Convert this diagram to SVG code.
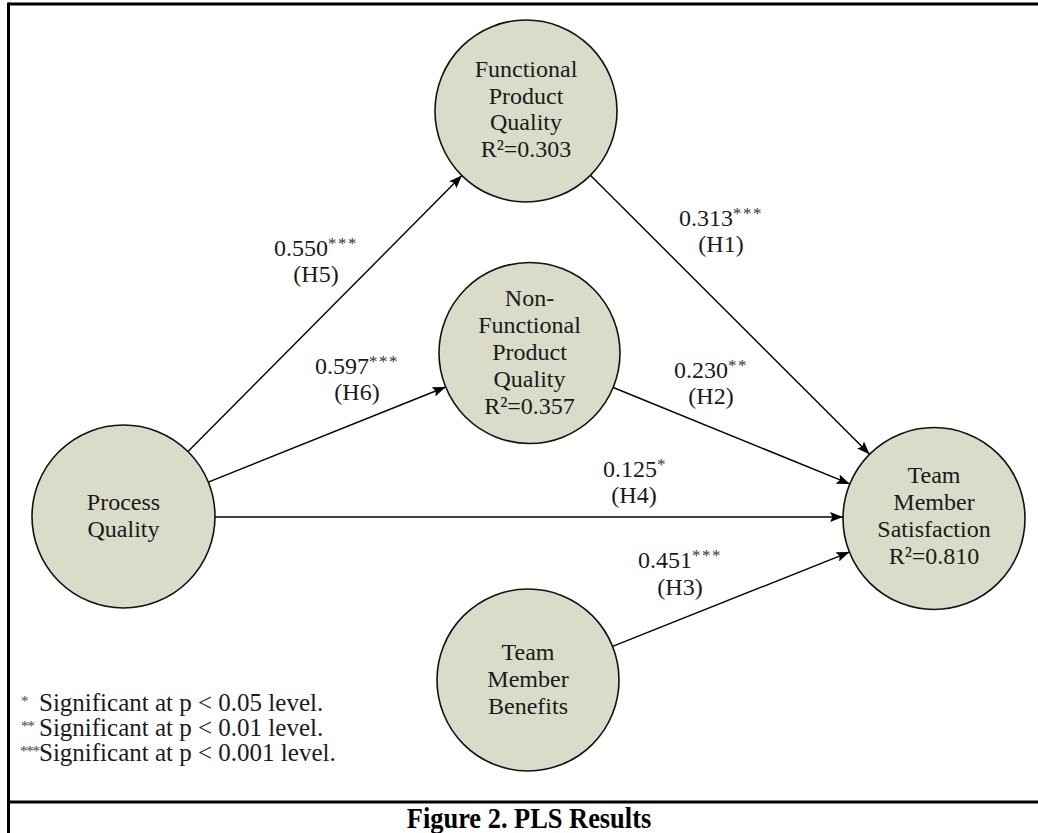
<svg xmlns="http://www.w3.org/2000/svg" width="1038" height="833" viewBox="0 0 1038 833">
<defs>
<style>
.frame{stroke:#000;stroke-width:3;fill:none}
.node circle{fill:#d9dcc8;stroke:#111;stroke-width:1.6}
.node text{font-family:"Liberation Serif","Times New Roman",serif;font-size:24px;fill:#1a1a1a;text-anchor:middle}
.edge{stroke:#000;stroke-width:1.4;fill:none;marker-end:url(#ah)}
.lbl{font-family:"Liberation Serif","Times New Roman",serif;font-size:24px;fill:#1a1a1a;text-anchor:middle}
.sup{font-size:17px;letter-spacing:1.5px;fill:#333}
.leg{font-family:"Liberation Serif","Times New Roman",serif;font-size:25px;fill:#1a1a1a}
.legs{font-family:"Liberation Serif","Times New Roman",serif;font-size:15px;fill:#444;letter-spacing:-1.2px}
.cap{font-family:"Liberation Serif","Times New Roman",serif;font-size:30px;font-weight:bold;fill:#000;text-anchor:middle}
</style>
<marker id="ah" markerWidth="14" markerHeight="10" refX="13" refY="5" orient="auto" markerUnits="userSpaceOnUse">
<path d="M0,0 L13,5 L0,10 L2.5,5 Z" fill="#000"/>
</marker>
</defs>
<rect width="1038" height="833" fill="#fff"/>
<g id="frame">
<line class="frame" x1="8.5" y1="4" x2="1038" y2="4"/>
<line class="frame" x1="8.5" y1="2.5" x2="8.5" y2="833"/>
<line class="frame" x1="8.5" y1="802" x2="1038" y2="802"/>
</g>
<g id="connectors">
<line class="edge" x1="188" y1="451.6" x2="461.9" y2="175.6"/>
<line class="edge" x1="208.3" y1="482.1" x2="445.6" y2="387"/>
<line class="edge" x1="215" y1="517" x2="843" y2="517"/>
<line class="edge" x1="590.4" y1="175.3" x2="869.6" y2="454.2"/>
<line class="edge" x1="613.2" y1="387.5" x2="849.8" y2="483.9"/>
<line class="edge" x1="612.6" y1="646.4" x2="849.4" y2="552.1"/>
</g>
<g id="edge-labels">
<text class="lbl" x="316" y="256">0.550<tspan class="sup" dy="-7">***</tspan></text>
<text class="lbl" x="316" y="282">(H5)</text>
<text class="lbl" x="357" y="374">0.597<tspan class="sup" dy="-7">***</tspan></text>
<text class="lbl" x="357" y="400">(H6)</text>
<text class="lbl" x="721" y="226">0.313<tspan class="sup" dy="-7">***</tspan></text>
<text class="lbl" x="721" y="252">(H1)</text>
<text class="lbl" x="711" y="378">0.230<tspan class="sup" dy="-7">**</tspan></text>
<text class="lbl" x="711" y="404">(H2)</text>
<text class="lbl" x="635" y="477">0.125<tspan class="sup" dy="-7">*</tspan></text>
<text class="lbl" x="634" y="503">(H4)</text>
<text class="lbl" x="680" y="568">0.451<tspan class="sup" dy="-7">***</tspan></text>
<text class="lbl" x="680" y="595">(H3)</text>
</g>
<g id="node-fpq" class="node">
<circle cx="526" cy="111" r="91"/>
<text x="526" y="77">Functional</text>
<text x="526" y="104">Product</text>
<text x="526" y="130">Quality</text>
<text x="526" y="157">R²=0.303</text>
</g>
<g id="node-nfpq" class="node">
<circle cx="529.5" cy="353" r="90.5"/>
<text x="529.5" y="306">Non-</text>
<text x="529.5" y="333">Functional</text>
<text x="529.5" y="360">Product</text>
<text x="529.5" y="387">Quality</text>
<text x="529.5" y="414">R²=0.357</text>
</g>
<g id="node-pq" class="node">
<circle cx="123.5" cy="516.5" r="91.5"/>
<text x="123.5" y="510">Process</text>
<text x="123.5" y="537">Quality</text>
</g>
<g id="node-tms" class="node">
<circle cx="934" cy="518.5" r="91"/>
<text x="934" y="483">Team</text>
<text x="934" y="510">Member</text>
<text x="934" y="537">Satisfaction</text>
<text x="934" y="564">R²=0.810</text>
</g>
<g id="node-tmb" class="node">
<circle cx="528" cy="680" r="91"/>
<text x="528" y="660">Team</text>
<text x="528" y="687">Member</text>
<text x="528" y="714">Benefits</text>
</g>
<g id="legend">
<text class="legs" x="21" y="706">*</text>
<text class="legs" x="21" y="731">**</text>
<text class="legs" x="20" y="756">***</text>
<text class="leg" x="39" y="711">Significant at p &lt; 0.05 level.</text>
<text class="leg" x="39" y="736">Significant at p &lt; 0.01 level.</text>
<text class="leg" x="39" y="761">Significant at p &lt; 0.001 level.</text>
</g>
<g id="caption">
<text class="cap" transform="translate(529,828) scale(0.88,1)">Figure 2. PLS Results</text>
</g>
</svg>
